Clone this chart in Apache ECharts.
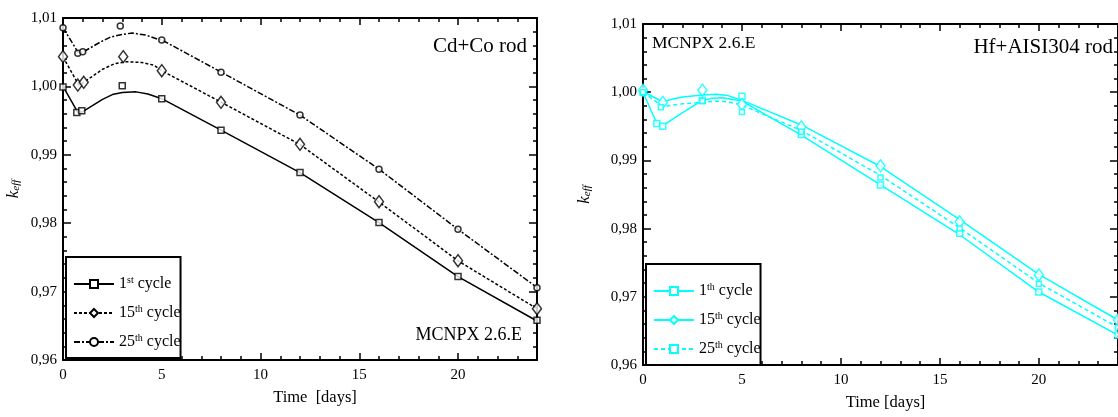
<!DOCTYPE html>
<html>
<head>
<meta charset="utf-8">
<script src="https://cdn.jsdelivr.net/npm/echarts@6/dist/echarts.min.js"></script>
<style>
  html, body { margin: 0; padding: 0; background: #fff; overflow: hidden; }
  #chart { width: 1118px; height: 417px; }
</style>
</head>
<body>
<div id="chart"></div>
<script>
// Cd+Co rod (left panel) - [time, keff]
const cd1Line = [[0, 1.0000], [0.75, 0.9962], [1, 0.9963], [2, 0.9981], [2.5, 0.9988], [3, 0.9991], [3.7, 0.9992], [4.3, 0.9989], [5, 0.9982], [8, 0.9936], [12, 0.9874], [16, 0.9801], [20, 0.9722], [24, 0.9657]];
const cd15Line = [[0, 1.0043], [0.8, 1.0002], [1, 1.0005], [2, 1.0025], [2.6, 1.0033], [3.2, 1.0036], [4, 1.0035], [4.6, 1.0031], [5, 1.0023], [8, 0.9977], [12, 0.9915], [16, 0.9831], [20, 0.9745], [24, 0.9675]];
const cd25Line = [[0, 1.0086], [0.8, 1.0048], [1, 1.0050], [1.9, 1.0065], [2.4, 1.0072], [3, 1.0076], [3.5, 1.0078], [4.2, 1.0075], [4.8, 1.0069], [5, 1.0068], [8, 1.0021], [12, 0.9958], [16, 0.9879], [20, 0.9791], [24, 0.9706]];
const cd1Marks = [[0, 0.9999], [0.7, 0.9962], [0.95, 0.99645], [3, 1.0001], [5, 0.9982], [8, 0.9936], [12, 0.9874], [16, 0.9801], [20, 0.9722], [24, 0.9658]];
const cd15Marks = [[0, 1.00435], [0.75, 1.0002], [1.05, 1.0006], [3.05, 1.00435], [5, 1.0023], [8, 0.99768], [12, 0.99153], [16, 0.98314], [20, 0.97452], [24, 0.9675]];
const cd25Marks = [[0, 1.00858], [0.75, 1.00484], [1, 1.00507], [2.9, 1.00883], [5, 1.00678], [8, 1.00206], [12, 0.99582], [16, 0.98788], [20, 0.97911], [24, 0.97057]];

// Hf+AISI304 rod (right panel)
const hf1Line = [[0, 1.0000], [0.7, 0.9954], [1, 0.9951], [2, 0.9970], [3, 0.9988], [3.5, 0.9991], [4, 0.9992], [5, 0.9987], [8, 0.9937], [12, 0.9864], [16, 0.9791], [20, 0.9707], [24, 0.9644]];
const hf15Line = [[0, 1.0001], [1, 0.9986], [1.5, 0.9990], [2, 0.9993], [3, 0.9996], [3.7, 0.9997], [4.3, 0.9995], [5, 0.9988], [8, 0.9952], [12, 0.9891], [16, 0.9813], [20, 0.9733], [24, 0.9666]];
const hf25Line = [[0, 1.0000], [1, 0.9979], [2, 0.9983], [3, 0.9985], [3.7, 0.9987], [4.3, 0.9986], [5, 0.9981], [8, 0.9944], [12, 0.9878], [16, 0.9801], [20, 0.9720], [24, 0.9655]];
const hf1Marks = [[0, 1.0000], [0.7, 0.9954], [1, 0.9950], [3, 0.9988], [5, 0.9994], [8, 0.9938], [12, 0.9864], [16, 0.9793], [20, 0.9707], [24, 0.9644]];
const hf15Marks = [[0, 1.0003], [1, 0.9985], [3, 1.0003], [5, 0.9982], [8, 0.9949], [12, 0.9892], [16, 0.9810], [20, 0.9732], [24, 0.9666]];
const hf25Marks = [[0, 1.0000], [0.9, 0.9978], [3, 0.9987], [5, 0.9971], [8, 0.9942], [12, 0.9875], [16, 0.9800], [20, 0.9719], [24, 0.9655]];

const cdLegend = ["1{sup|st} cycle", "15{sup|th} cycle", "25{sup|th} cycle"];
const hfLegend = ["1{sup|th} cycle", "15{sup|th} cycle", "25{sup|th} cycle"];

const serif = "'Liberation Serif', 'Times New Roman', serif";
const CYAN = "#00ffff";

function yLabel(v) {
    return v.toFixed(2).replace(".", ",");
}

function xMain(grid, pos, name, pad) {
    return {
        gridIndex: grid, type: "value", position: pos, min: 0, max: 24, interval: 5,
        axisLine: {onZero: false, lineStyle: {color: "#000", width: 2}},
        axisTick: {inside: true, length: 7, lineStyle: {color: "#000", width: 1.5}},
        splitLine: {show: false},
        axisLabel: {show: pos === "bottom", showMaxLabel: false, color: "#000", fontFamily: serif, fontSize: 15, margin: 8},
        name: name, nameLocation: "middle", nameGap: 29,
        nameTextStyle: {color: "#000", fontFamily: serif, fontSize: 16.5, padding: [0, 0, 0, pad]},
    };
}

// separate axis for the 1-day minor ticks (the 24 day max is not a multiple of 5)
function xMinor(grid, pos) {
    return {
        gridIndex: grid, type: "value", position: pos, min: 0, max: 24, interval: 1,
        axisLine: {show: false},
        axisTick: {inside: true, length: 4, lineStyle: {color: "#000", width: 1.5}},
        splitLine: {show: false},
        axisLabel: {show: false},
    };
}

function yAx(grid, pos, gap) {
    return {
        gridIndex: grid, type: "value", position: pos, min: 0.96, max: 1.01, interval: 0.01,
        axisLine: {onZero: false, lineStyle: {color: "#000", width: 2}},
        axisTick: {inside: true, length: 8, lineStyle: {color: "#000", width: 1.5}},
        minorTick: {show: true, splitNumber: 5, length: 4, lineStyle: {color: "#000", width: 1.5}},
        splitLine: {show: false},
        axisLabel: {show: pos === "left", formatter: yLabel, color: "#000", fontFamily: serif, fontSize: 15, margin: 6},
        name: pos === "left" ? "{k|k}{e|eff}" : "",
        nameLocation: "middle", nameGap: gap, nameRotate: 90,
        nameTextStyle: {
            rich: {
                k: {fontFamily: serif, fontStyle: "italic", fontSize: 17, color: "#000"},
                e: {fontFamily: serif, fontStyle: "italic", fontSize: 11, color: "#000", verticalAlign: "bottom", padding: [6, 0, 0, 0]},
            },
        },
    };
}

function lineSeries(name, grid, data, color, type, symbol) {
    return {
        name: name, type: "line", xAxisIndex: grid * 4, yAxisIndex: grid * 2, data: data,
        smooth: false, showSymbol: false, symbol: symbol, symbolSize: 7,
        lineStyle: {color: color, width: 1.5, type: type},
        itemStyle: {color: "#fff", borderColor: color, borderWidth: 1.5},
        emphasis: {disabled: true},
    };
}

function markSeries(grid, data, color, symbol, size) {
    return {
        type: "scatter", xAxisIndex: grid * 4, yAxisIndex: grid * 2, data: data,
        symbol: symbol, symbolSize: size, clip: false,
        itemStyle: {color: "#fff", borderColor: color, borderWidth: 1.5},
        emphasis: {disabled: true}, z: 3,
    };
}

function legendBox(left, top, names, labels) {
    return {
        orient: "vertical", left: left, top: top, data: names,
        itemWidth: 40, itemHeight: 10, itemGap: 11,
        padding: [18, 0, 7, 7],
        backgroundColor: "#fff", borderColor: "#000", borderWidth: 2,
        selectedMode: false,
        formatter: (n) => labels[names.indexOf(n)],
        textStyle: {
            color: "#000", fontFamily: serif, fontSize: 16, lineHeight: 18,
            rich: {sup: {fontFamily: serif, fontSize: 10, color: "#000", verticalAlign: "top", lineHeight: 18}},
        },
    };
}

const myChart = echarts.init(document.getElementById("chart"));
const option = {
    animation: false,
    grid: [
        {left: 63, top: 18, width: 474, height: 342},
        {left: 643, top: 24, width: 480, height: 341},
    ],
    xAxis: [
        xMain(0, "bottom", "Time  [days]", 30), xMain(0, "top", "", 0), xMinor(0, "bottom"), xMinor(0, "top"),
        xMain(1, "bottom", "Time [days]", 10), xMain(1, "top", "", 0), xMinor(1, "bottom"), xMinor(1, "top"),
    ],
    yAxis: [
        yAx(0, "left", 41), yAx(0, "right", 0),
        yAx(1, "left", 50), yAx(1, "right", 0),
    ],
    legend: [
        legendBox(66, 257, ["cd1", "cd15", "cd25"], cdLegend),
        legendBox(646, 264, ["hf1", "hf15", "hf25"], hfLegend),
    ],
    graphic: [
        {type: "text", right: 591, top: 36, style: {text: "Cd+Co rod", font: "21px " + serif, fill: "#000"}},
        {type: "text", right: 596, top: 326, style: {text: "MCNPX 2.6.E", font: "18px " + serif, fill: "#000"}},
        {type: "text", left: 652, top: 34, style: {text: "MCNPX 2.6.E", font: "17.5px " + serif, fill: "#000"}},
        {type: "text", right: 5, top: 37, style: {text: "Hf+AISI304 rod", font: "21px " + serif, fill: "#000"}},
    ],
    series: [
        lineSeries("cd1", 0, cd1Line, "#000", "solid", "rect"),
        lineSeries("cd15", 0, cd15Line, "#000", [3, 2], "diamond"),
        lineSeries("cd25", 0, cd25Line, "#000", [6, 2, 2, 2], "circle"),
        markSeries(0, cd1Marks, "#000", "rect", 6),
        markSeries(0, cd15Marks, "#000", "diamond", [9, 12]),
        markSeries(0, cd25Marks, "#000", "circle", 6),
        lineSeries("hf1", 1, hf1Line, CYAN, "solid", "rect"),
        lineSeries("hf15", 1, hf15Line, CYAN, "solid", "diamond"),
        lineSeries("hf25", 1, hf25Line, CYAN, [4, 3], "rect"),
        markSeries(1, hf1Marks, CYAN, "rect", 6),
        markSeries(1, hf15Marks, CYAN, "diamond", [9, 12]),
        markSeries(1, hf25Marks, CYAN, "rect", 5),
    ],
};
myChart.setOption(option);
</script>
</body>
</html>
